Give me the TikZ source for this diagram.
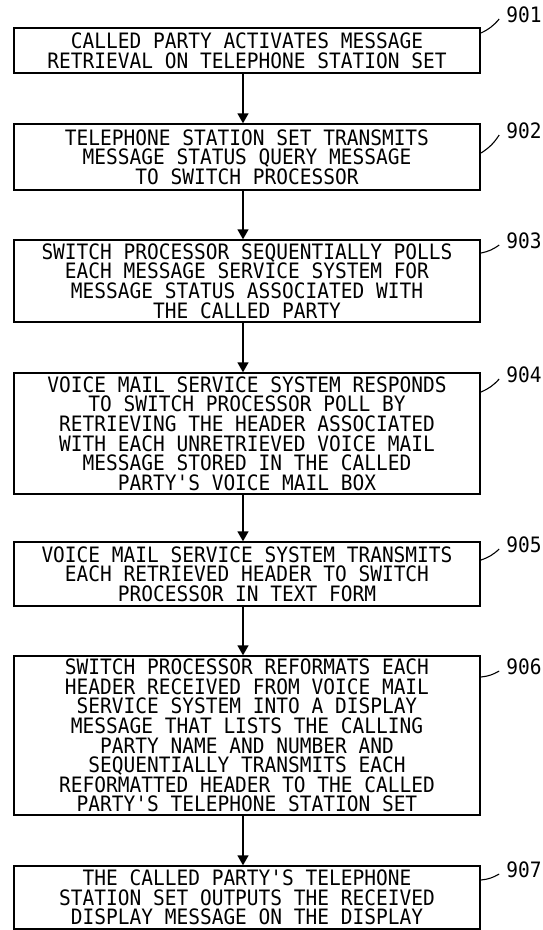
\documentclass[tikz,border=0pt]{standalone}
\usepackage{fontspec}
\setmonofont[FakeStretch=0.92]{DejaVu Sans Mono}
\usetikzlibrary{arrows.meta, positioning}
\tikzset{
    % Node styles
    stepbox/.style={
        rectangle,
        draw=black,
        line width=1.4pt,
        minimum width=466pt,
        inner sep=0.5pt,
        align=center,
        font=\ttfamily\fontsize{21.2}{19.6}\selectfont
    },
    refnum/.style={
        inner sep=0pt,
        font=\ttfamily\fontsize{21.2}{19.6}\selectfont
    },
    % Arrow styles
    flowarrow/.style={
        -{Triangle[length=10pt,width=11pt]},
        line width=1.4pt
    },
    leader/.style={
        line width=1.1pt
    }
}

\begin{document}
\begin{tikzpicture}[x=1pt, y=-1pt]
            \useasboundingbox (0,0) rectangle (543,930);

            % Steps
            \node[stepbox, minimum height=45pt] (b901) at (247,50.5)
                {CALLED PARTY ACTIVATES MESSAGE\\RETRIEVAL ON TELEPHONE STATION SET};
            \node[stepbox, minimum height=66pt] (b902) at (247,157)
                {TELEPHONE STATION SET TRANSMITS\\MESSAGE STATUS QUERY MESSAGE\\TO SWITCH PROCESSOR};
            \node[stepbox, minimum height=82pt] (b903) at (247,281)
                {SWITCH PROCESSOR SEQUENTIALLY POLLS\\EACH MESSAGE SERVICE SYSTEM FOR\\MESSAGE STATUS ASSOCIATED WITH\\THE CALLED PARTY};
            \node[stepbox, minimum height=121pt] (b904) at (247,433.5)
                {VOICE MAIL SERVICE SYSTEM RESPONDS\\TO SWITCH PROCESSOR POLL BY\\RETRIEVING THE HEADER ASSOCIATED\\WITH EACH UNRETRIEVED VOICE MAIL\\MESSAGE STORED IN THE CALLED\\PARTY'S VOICE MAIL BOX};
            \node[stepbox, minimum height=64pt] (b905) at (247,574)
                {VOICE MAIL SERVICE SYSTEM TRANSMITS\\EACH RETRIEVED HEADER TO SWITCH\\PROCESSOR IN TEXT FORM};
            \node[stepbox, minimum height=159pt] (b906) at (247,735.5)
                {SWITCH PROCESSOR REFORMATS EACH\\HEADER RECEIVED FROM VOICE MAIL\\SERVICE SYSTEM INTO A DISPLAY\\MESSAGE THAT LISTS THE CALLING\\PARTY NAME AND NUMBER AND\\SEQUENTIALLY TRANSMITS EACH\\REFORMATTED HEADER TO THE CALLED\\PARTY'S TELEPHONE STATION SET};
            \node[stepbox, minimum height=63pt] (b907) at (247,897.5)
                {THE CALLED PARTY'S TELEPHONE\\STATION SET OUTPUTS THE RECEIVED\\DISPLAY MESSAGE ON THE DISPLAY};

            % Flow
            \foreach \a/\b in {901/902,902/903,903/904,904/905,905/906,906/907} {
                \draw[flowarrow] ([xshift=-4pt]b\a.south) -- ([xshift=-4pt]b\b.north);
            }

            % Reference numerals
            \foreach \n/\ly/\sy in {901/15/33,902/131/153,903/241/253,904/375/392,905/545/560,906/667/677,907/870/880} {
                \node[refnum] (l\n) at (524,\ly) {\n};
                \coordinate (s\n) at (481,\sy);
                \draw[leader] (s\n) to[bend right=12] ([xshift=-7pt,yshift=-4pt]l\n.west);
            }
        \end{tikzpicture}
\end{document}
